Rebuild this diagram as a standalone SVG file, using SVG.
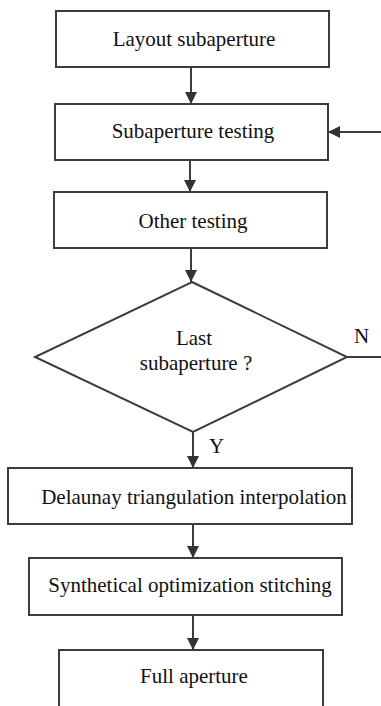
<svg xmlns="http://www.w3.org/2000/svg" width="381" height="706" viewBox="0 0 381 706">
<defs>
<style>
.box{fill:#fff;stroke:#3c3c3c;stroke-width:2}
.line{stroke:#3c3c3c;stroke-width:2;fill:none}
.t{font-size:21px;fill:#111;text-anchor:middle}
.lbl{font-size:21px;fill:#111}
</style>
<marker id="arr" markerUnits="userSpaceOnUse" markerWidth="14" markerHeight="14" viewBox="0 0 14 14" refX="12" refY="7" orient="auto">
<path d="M0,1 L12,7 L0,13 Z" fill="#333"/>
</marker>
</defs>
<rect width="381" height="706" fill="#fff"/>
<g font-family="Liberation Serif, DejaVu Serif, serif">
<g id="n1"><rect class="box" x="56" y="11" width="273" height="56"/><text class="t" x="194" y="46">Layout subaperture</text></g>
<g id="n2"><rect class="box" x="55" y="104" width="273" height="56"/><text class="t" x="193" y="138">Subaperture testing</text></g>
<g id="n3"><rect class="box" x="54" y="192" width="273" height="56"/><text class="t" x="193" y="228">Other testing</text></g>
<g id="n4"><polygon class="box" points="192,282 347,357 193,432 35,357"/><text class="t" x="194" y="345">Last</text><text class="t" x="196" y="370">subaperture ?</text></g>
<g id="n5"><rect class="box" x="8" y="468" width="344" height="56"/><text class="t" x="194" y="504">Delaunay triangulation interpolation</text></g>
<g id="n6"><rect class="box" x="29" y="558" width="313" height="57"/><text class="t" x="190" y="592">Synthetical optimization stitching</text></g>
<g id="n7"><rect class="box" x="59" y="650" width="264" height="70"/><text class="t" x="194" y="683">Full aperture</text></g>
<g id="connectors">
<line class="line" x1="191" y1="67" x2="191" y2="104" marker-end="url(#arr)"/>
<line class="line" x1="190" y1="160" x2="190" y2="192" marker-end="url(#arr)"/>
<line class="line" x1="191" y1="248" x2="191" y2="282" marker-end="url(#arr)"/>
<line class="line" x1="193" y1="432" x2="193" y2="468" marker-end="url(#arr)"/>
<line class="line" x1="193" y1="524" x2="193" y2="558" marker-end="url(#arr)"/>
<line class="line" x1="193" y1="615" x2="193" y2="650" marker-end="url(#arr)"/>
<line class="line" x1="381" y1="132" x2="328" y2="132" marker-end="url(#arr)"/>
<line class="line" x1="347" y1="357" x2="381" y2="357"/>
<text class="lbl" x="354" y="343">N</text>
<text class="lbl" x="209" y="453">Y</text>
</g>
</g>
</svg>
